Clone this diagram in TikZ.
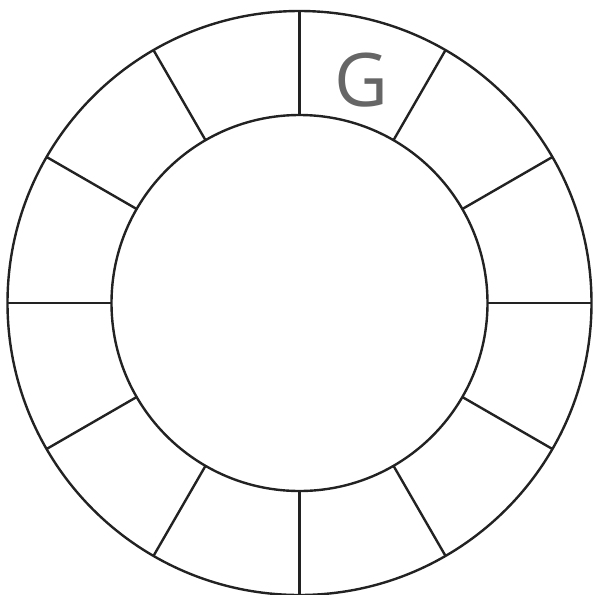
\documentclass[tikz,border=0pt]{standalone}
\usepackage{fontspec}
\newfontfamily\labelfont{Open Sans}
\definecolor{ringline}{HTML}{222222}
\definecolor{lettergray}{HTML}{666666}
\begin{document}
\begin{tikzpicture}[x=1pt,y=-1pt,
  ring/.style={circle,draw=ringline,line width=2.4pt,inner sep=0pt,outer sep=0pt},
  spoke/.style={draw=ringline,line width=2.4pt},
  letter/.style={text=lettergray,font=\labelfont\fontsize{74}{74}\selectfont,inner sep=0pt}]
\useasboundingbox (0,0) rectangle (594,595);
\node[ring,minimum size=584pt] (outer) at (299.5,303) {};
\node[ring,minimum size=376pt] (inner) at (299.5,303) {};
\foreach \a in {0,30,...,330}{
  \draw[spoke] (inner.\a) -- (outer.\a);
}
\node[letter] (g) at (361,80) {G};
\end{tikzpicture}
\end{document}
